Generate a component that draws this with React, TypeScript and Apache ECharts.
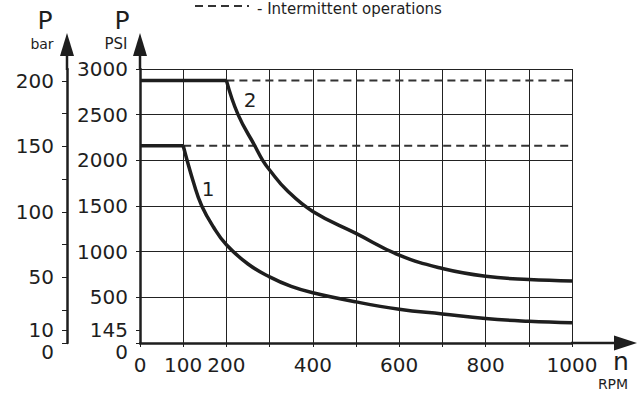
import React, { useEffect, useRef } from "react";
import * as echarts from "echarts";

// ---- data ----
const rpmLabelValues = [0, 100, 200, 400, 600, 800, 1000];
const psiLabelValues = [0, 145, 500, 1000, 1500, 2000, 2500, 3000];
const barLabelValues = [0, 10, 50, 100, 150, 200];
const barTickValues = [0, 10, 25, 50, 75, 100, 125, 150, 175, 200];

const curve1Flat = [[0, 2160], [100, 2160]];
const curve1Drop = [
  [100, 2160], [125, 1740], [143, 1500], [170, 1270], [200, 1075],
  [250, 865], [300, 724], [350, 620], [400, 550], [500, 450],
  [600, 370], [700, 318], [800, 267], [900, 238], [1000, 222],
];
const curve2Flat = [[0, 2875], [200, 2875]];
const curve2Drop = [
  [200, 2875], [227, 2500], [266, 2157], [284, 2000], [300, 1894], [340, 1672],
  [400, 1440], [500, 1200], [600, 962], [700, 816], [800, 731],
  [900, 695], [1000, 680],
];
const intermittent1 = [[100, 2160], [1000, 2160]];
const intermittent2 = [[200, 2875], [1000, 2875]];

const FONT = "DejaVu Sans";
const INK = "#1e1e1e";

export default function App() {
  const ref = useRef<HTMLDivElement>(null);
  useEffect(() => {
    if (!ref.current) return;
    const chart = echarts.init(ref.current, undefined, { renderer: "svg" });
    const solid = { color: INK, width: 3.5 };
    const dashed = { color: "#333", width: 2, type: [8, 5] as any };
    const zeroRich = {
      z: { padding: [18, 0, 0, 0], fontSize: 20, fontFamily: FONT, color: INK },
    };
    chart.setOption({
      animation: false,
      grid: { left: 140, right: 65, top: 69, bottom: 51, containLabel: false },
      xAxis: {
        type: "value",
        min: 0,
        max: 1000,
        interval: 100,
        axisLine: { show: true, lineStyle: { color: INK, width: 2.5 } },
        axisTick: { show: true, length: 4, lineStyle: { color: INK, width: 1 } },
        splitLine: { show: true, lineStyle: { color: "#222", width: 1 } },
        axisLabel: {
          margin: 12,
          fontFamily: FONT,
          fontSize: 20,
          color: INK,
          formatter: (v: number) => (rpmLabelValues.includes(v) ? String(v) : ""),
        },
      },
      yAxis: [
        {
          type: "value",
          min: 0,
          max: 3000,
          interval: 500,
          position: "left",
          axisLine: { show: true, lineStyle: { color: INK, width: 2.5 } },
          axisTick: { show: false },
          axisLabel: { show: false },
          splitLine: { show: true, lineStyle: { color: "#222", width: 1 } },
        },
        {
          type: "value",
          min: 0,
          max: 3000,
          position: "left",
          axisLine: { show: false },
          splitLine: { show: false },
          axisTick: {
            show: true,
            length: 4,
            customValues: psiLabelValues,
            lineStyle: { color: INK, width: 1 },
          },
          axisLabel: {
            customValues: psiLabelValues,
            margin: 12,
            fontFamily: FONT,
            fontSize: 20,
            color: INK,
            formatter: (v: number) => (v === 0 ? "{z|0}" : String(v)),
            rich: zeroRich,
          },
        },
        {
          type: "value",
          min: 0,
          max: 209,
          position: "left",
          offset: 73,
          axisLine: { show: true, lineStyle: { color: INK, width: 2.5 } },
          splitLine: { show: false },
          axisTick: {
            show: true,
            length: 5,
            customValues: barTickValues,
            lineStyle: { color: INK, width: 1 },
          },
          axisLabel: {
            customValues: barLabelValues,
            margin: 13,
            fontFamily: FONT,
            fontSize: 20,
            color: INK,
            formatter: (v: number) => (v === 0 ? "{z|0}" : String(v)),
            rich: zeroRich,
          },
        },
      ],
      series: [
        { type: "line", data: intermittent1, showSymbol: false, lineStyle: dashed, z: 2 },
        { type: "line", data: intermittent2, showSymbol: false, lineStyle: dashed, z: 2 },
        { type: "line", data: curve1Flat, showSymbol: false, lineStyle: solid, z: 3 },
        { type: "line", data: curve2Flat, showSymbol: false, lineStyle: solid, z: 3 },
        { type: "line", data: curve1Drop, showSymbol: false, smooth: 0.45, lineStyle: solid, z: 3 },
        { type: "line", data: curve2Drop, showSymbol: false, smooth: 0.45, lineStyle: solid, z: 3 },
      ],
      graphic: [
        // axis extensions and arrowheads
        { type: "line", shape: { x1: 67, y1: 70, x2: 67, y2: 50 }, style: { stroke: INK, lineWidth: 2.5 } },
        { type: "polygon", shape: { points: [[67, 33], [60, 56], [74, 56]] }, style: { fill: INK } },
        { type: "line", shape: { x1: 140, y1: 70, x2: 140, y2: 50 }, style: { stroke: INK, lineWidth: 2.5 } },
        { type: "polygon", shape: { points: [[140, 33], [133, 56], [147, 56]] }, style: { fill: INK } },
        { type: "line", shape: { x1: 571, y1: 343, x2: 618, y2: 343 }, style: { stroke: INK, lineWidth: 2.5 } },
        { type: "polygon", shape: { points: [[637, 343], [614, 335.5], [614, 350.5]] }, style: { fill: INK } },
        // axis titles
        { type: "text", x: 45, y: 20, style: { text: "P", font: `25px '${FONT}'`, fill: INK, align: "center", verticalAlign: "middle" } },
        { type: "text", x: 42, y: 44, style: { text: "bar", font: `14px '${FONT}'`, fill: INK, align: "center", verticalAlign: "middle" } },
        { type: "text", x: 122, y: 20, style: { text: "P", font: `25px '${FONT}'`, fill: INK, align: "center", verticalAlign: "middle" } },
        { type: "text", x: 116, y: 44, style: { text: "PSI", font: `15px '${FONT}'`, fill: INK, align: "center", verticalAlign: "middle" } },
        { type: "text", x: 621, y: 361, style: { text: "n", font: `25px '${FONT}'`, fill: INK, align: "center", verticalAlign: "middle" } },
        { type: "text", x: 613, y: 384, style: { text: "RPM", font: `14px '${FONT}'`, fill: INK, align: "center", verticalAlign: "middle" } },
        // curve numbers
        { type: "text", x: 208, y: 189, style: { text: "1", font: `20px '${FONT}'`, fill: INK, align: "center", verticalAlign: "middle" } },
        { type: "text", x: 250, y: 100, style: { text: "2", font: `20px '${FONT}'`, fill: INK, align: "center", verticalAlign: "middle" } },
        // legend
        { type: "line", shape: { x1: 195, y1: 6, x2: 249, y2: 6 }, style: { stroke: "#333", lineWidth: 2, lineDash: [8, 5] } },
        { type: "text", x: 257, y: 1, style: { text: "- Intermittent operations", font: `15px '${FONT}'`, fill: INK, align: "left", verticalAlign: "top" } },
      ],
    });
    return () => chart.dispose();
  }, []);
  return (
    <div
      ref={ref}
      style={{ position: "fixed", left: 0, top: 0, width: 637, height: 394, background: "#fff" }}
    />
  );
}
